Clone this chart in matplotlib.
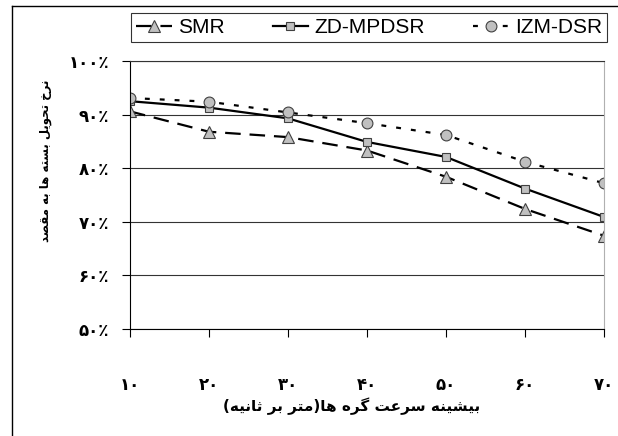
import matplotlib
matplotlib.use("Agg")
import matplotlib.pyplot as plt
from matplotlib.lines import Line2D

# data
speeds = ["۱۰", "۲۰", "۳۰", "۴۰", "۵۰", "۶۰", "۷۰"]
smr = [90.6, 86.8, 85.8, 83.3, 78.4, 72.4, 67.4]
zd_mpdsr = [92.5, 91.3, 89.3, 84.9, 82.1, 76.2, 70.9]
izm_dsr = [93.1, 92.4, 90.4, 88.4, 86.2, 81.2, 77.2]
ytick_vals = [50, 60, 70, 80, 90, 100]
ytick_labels = ["۵۰٪", "۶۰٪", "۷۰٪", "۸۰٪", "۹۰٪", "۱۰۰٪"]
xlabel = "بیشینه سرعت گره ها(متر بر ثانیه)"
ylabel = "نرخ تحویل بسته ها به مقصد"

# simple arabic/persian shaping: (isolated, final, initial, medial)
FORMS = {
    "ا": (0xFE8D, 0xFE8E, None, None),
    "ب": (0xFE8F, 0xFE90, 0xFE91, 0xFE92),
    "ت": (0xFE95, 0xFE96, 0xFE97, 0xFE98),
    "ث": (0xFE99, 0xFE9A, 0xFE9B, 0xFE9C),
    "ح": (0xFEA1, 0xFEA2, 0xFEA3, 0xFEA4),
    "خ": (0xFEA5, 0xFEA6, 0xFEA7, 0xFEA8),
    "د": (0xFEA9, 0xFEAA, None, None),
    "ر": (0xFEAD, 0xFEAE, None, None),
    "س": (0xFEB1, 0xFEB2, 0xFEB3, 0xFEB4),
    "ش": (0xFEB5, 0xFEB6, 0xFEB7, 0xFEB8),
    "ص": (0xFEB9, 0xFEBA, 0xFEBB, 0xFEBC),
    "ع": (0xFEC9, 0xFECA, 0xFECB, 0xFECC),
    "ق": (0xFED5, 0xFED6, 0xFED7, 0xFED8),
    "ل": (0xFEDD, 0xFEDE, 0xFEDF, 0xFEE0),
    "م": (0xFEE1, 0xFEE2, 0xFEE3, 0xFEE4),
    "ن": (0xFEE5, 0xFEE6, 0xFEE7, 0xFEE8),
    "ه": (0xFEE9, 0xFEEA, 0xFEEB, 0xFEEC),
    "و": (0xFEED, 0xFEEE, None, None),
    "ی": (0xFBFC, 0xFBFD, 0xFBFE, 0xFBFF),
    "گ": (0xFB92, 0xFB93, 0xFB94, 0xFB95),
}


def rtl(text):
    out = []
    for i, ch in enumerate(text):
        if ch not in FORMS:
            out.append(ch)
            continue
        prev = text[i - 1] if i > 0 else ""
        nxt = text[i + 1] if i + 1 < len(text) else ""
        join_prev = prev in FORMS and FORMS[prev][2] is not None
        join_next = nxt in FORMS and FORMS[ch][2] is not None
        iso, fin, ini, med = FORMS[ch]
        if join_prev and join_next:
            code = med
        elif join_prev:
            code = fin
        elif join_next:
            code = ini
        else:
            code = iso
        out.append(chr(code))
    mirror = {"(": ")", ")": "("}
    return "".join(mirror.get(c, c) for c in reversed(out))


plt.rcParams["font.family"] = ["DejaVu Sans"]

fig = plt.figure(figsize=(6.18, 4.36), dpi=100)
ax = fig.add_axes([130 / 618, 1 - 329 / 436, 474 / 618, 268 / 436])

x = list(range(len(speeds)))
mk = dict(markerfacecolor="#c0c0c0", markeredgecolor="#404040", markeredgewidth=0.8)
ax.plot(x, smr, color="black", lw=1.6, dashes=(7, 4), marker="^", ms=8.5, label="SMR", **mk)
ax.plot(x, zd_mpdsr, color="black", lw=1.6, marker="s", ms=6.3, label="ZD-MPDSR", **mk)
ax.plot(x, izm_dsr, color="black", lw=1.6, dashes=(2.2, 4.5), marker="o", ms=7.8, label="IZM-DSR", **mk)

ax.set_xlim(0, len(speeds) - 1)
ax.set_ylim(50, 100)
ax.set_xticks(x)
ax.set_xticklabels(speeds, fontsize=12, fontweight="bold")
ax.set_yticks(ytick_vals)
ax.set_yticklabels(ytick_labels, fontsize=12, fontweight="bold")
ax.tick_params(axis="x", direction="out", length=6, width=0.8, pad=28)
ax.tick_params(axis="y", direction="out", length=6, width=0.8, pad=9)
ax.yaxis.grid(True, color="#333333", lw=0.8)
ax.set_axisbelow(True)
for side in ["left", "bottom"]:
    ax.spines[side].set_color("black")
    ax.spines[side].set_linewidth(0.8)
ax.spines["top"].set_color("#333333")
ax.spines["top"].set_linewidth(0.8)
ax.spines["right"].set_color("#b0b0b0")
ax.spines["right"].set_linewidth(0.8)

ax.set_xlabel(rtl(xlabel), fontsize=11, fontweight="bold")
ax.xaxis.set_label_coords(0.468, -0.255)
ax.set_ylabel(rtl(ylabel), fontsize=8.5, fontweight="bold")
ax.yaxis.set_label_coords(-0.165, 0.627)

leg = fig.legend(loc="center", ncol=3, mode="expand",
                 bbox_to_anchor=(131 / 618, 1 - 46 / 436, 476 / 618, 37 / 436),
                 borderaxespad=0, fancybox=False, frameon=True,
                 prop={"family": "Liberation Sans", "size": 15},
                 handlelength=1.7, handletextpad=0.3, borderpad=0.25)
leg.get_frame().set_edgecolor("black")
leg.get_frame().set_linewidth(0.8)

# outer frame of the original chart area
fig.add_artist(Line2D([12 / 618, 12 / 618], [0, 1 - 6 / 436], transform=fig.transFigure, color="black", lw=1))
fig.add_artist(Line2D([12 / 618, 1], [1 - 6 / 436, 1 - 6 / 436], transform=fig.transFigure, color="black", lw=1))

fig.savefig("out.png", dpi=100)
